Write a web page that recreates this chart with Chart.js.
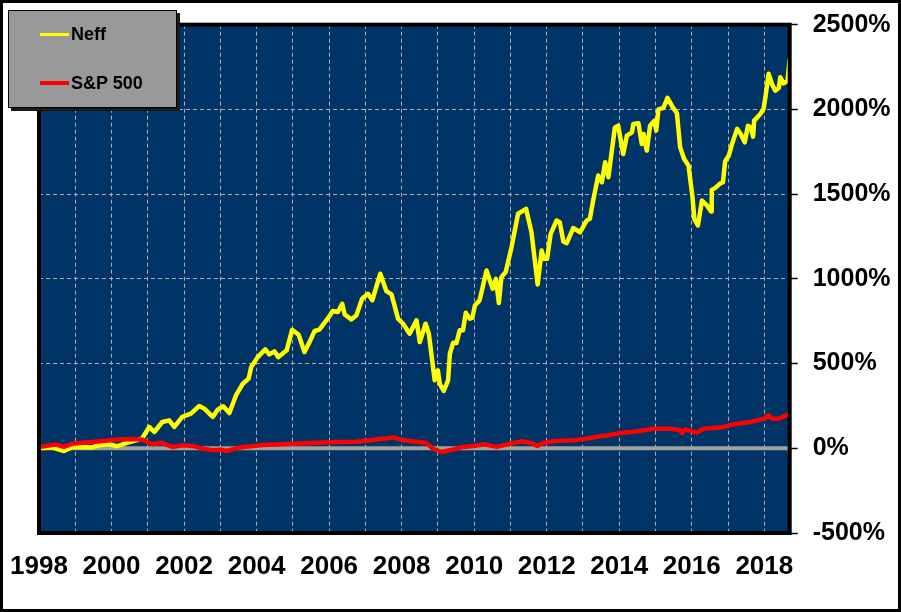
<!DOCTYPE html>
<html>
<head>
<meta charset="utf-8">
<script src="https://cdn.jsdelivr.net/npm/chart.js@4.4.1/dist/chart.umd.min.js"></script>
<style>
  html, body { margin: 0; padding: 0; background: #ffffff; overflow: hidden; }
  #wrap { position: relative; width: 901px; height: 612px; }
  #frame { position: absolute; left: 0; top: 0; width: 901px; height: 612px; box-sizing: border-box; border: 3px solid #000; pointer-events: none; }
  #legend { position: absolute; left: 8px; top: 10px; width: 169px; height: 98px; box-sizing: border-box; background: #999999; border: 1.5px solid #000; box-shadow: 3px 3px 0 #1a1a1a; font-family: "Liberation Sans", Arial, sans-serif; font-weight: bold; font-size: 18px; color: #000; }
  .item { position: absolute; left: 31px; height: 22px; display: flex; align-items: center; }
  .sw { width: 29px; height: 3.5px; margin-right: 2px; }
</style>
</head>
<body>
<div id="wrap">
  <canvas id="c" width="901" height="612"></canvas>
  <div id="legend"></div>
  <div id="frame"></div>
</div>
<script>
// ---- data ----
const seriesNames = ["Neff", "S&P 500"];
const seriesColors = ["#FFFF00", "#FF0000"];

// Neff cumulative return (%), by decimal year
const neffDates = [1998.00,1998.37,1998.69,1998.91,1999.19,1999.46,1999.66,1999.93,2000.15,2000.40,2000.68,2000.85,2001.04,2001.18,2001.40,2001.59,2001.73,2001.95,2002.19,2002.42,2002.56,2002.79,2002.93,2003.08,2003.25,2003.43,2003.62,2003.78,2003.85,2004.03,2004.24,2004.35,2004.49,2004.60,2004.83,2004.98,2005.16,2005.32,2005.46,2005.60,2005.73,2005.96,2006.10,2006.24,2006.36,2006.43,2006.61,2006.75,2006.91,2007.07,2007.19,2007.41,2007.58,2007.72,2007.90,2008.04,2008.22,2008.41,2008.50,2008.66,2008.75,2008.91,2009.00,2009.05,2009.16,2009.28,2009.33,2009.42,2009.51,2009.60,2009.69,2009.77,2009.88,2009.95,2010.02,2010.15,2010.34,2010.51,2010.60,2010.68,2010.75,2010.87,2011.03,2011.21,2011.43,2011.58,2011.75,2011.86,2011.92,2012.01,2012.11,2012.27,2012.36,2012.46,2012.55,2012.73,2012.92,2013.10,2013.19,2013.28,2013.42,2013.52,2013.61,2013.70,2013.88,2013.97,2014.11,2014.21,2014.35,2014.39,2014.53,2014.62,2014.67,2014.76,2014.85,2014.97,2015.02,2015.08,2015.22,2015.33,2015.45,2015.59,2015.68,2015.79,2015.91,2016.02,2016.07,2016.17,2016.28,2016.42,2016.53,2016.55,2016.65,2016.77,2016.86,2016.92,2017.02,2017.11,2017.25,2017.35,2017.46,2017.55,2017.63,2017.69,2017.72,2017.89,2017.98,2018.03,2018.12,2018.21,2018.30,2018.40,2018.44,2018.53,2018.64,2018.70];
const neffValues = [0,4,-16,6,8,5,18,24,12,31,47,59,126,96,155,165,126,185,204,250,234,185,228,248,208,312,381,411,479,538,584,554,572,538,578,700,670,568,627,692,700,765,810,804,853,790,761,784,883,912,873,1030,927,908,765,735,676,755,627,735,676,401,460,381,338,401,558,623,621,696,696,800,765,771,843,873,1049,942,1000,857,1010,1040,1187,1384,1413,1275,967,1167,1118,1118,1266,1344,1334,1220,1210,1300,1275,1344,1354,1462,1610,1570,1688,1600,1894,1904,1737,1845,1865,1914,1918,1796,1855,1757,1904,1934,1875,2000,2009,2068,2022,1977,1776,1708,1669,1482,1354,1315,1462,1433,1397,1525,1537,1561,1570,1694,1727,1796,1885,1855,1806,1904,1894,1839,1934,1973,2003,2072,2210,2150,2111,2127,2190,2154,2170,2298];

// S&P 500 cumulative return (%), by decimal year
const spDates = [1998.00,1998.46,1998.69,1998.92,1999.20,1999.47,1999.75,1999.98,2000.26,2000.62,2000.85,2001.13,2001.36,2001.68,2001.96,2002.23,2002.51,2002.79,2003.02,2003.16,2003.52,2004.17,2005.00,2006.01,2006.75,2007.12,2007.39,2007.81,2008.04,2008.41,2008.68,2008.86,2009.10,2009.33,2009.69,2009.97,2010.29,2010.62,2010.98,2011.31,2011.58,2011.74,2011.90,2012.23,2012.73,2013.10,2013.47,2013.70,2014.02,2014.39,2014.67,2014.94,2015.40,2015.68,2015.73,2015.82,2016.14,2016.32,2016.78,2017.15,2017.61,2018.00,2018.12,2018.21,2018.40,2018.67];
const spValues = [8,22,8,27,33,37,43,47,53,55,51,24,33,8,18,14,-2,-12,-8,-16,4,20,27,35,39,47,55,63,47,39,31,-2,-22,-12,8,14,24,8,27,41,31,14,31,43,47,57,71,77,90,98,106,116,116,106,90,112,92,116,122,141,155,175,195,175,175,200];

// axis ranges and ticks
const xRange = [1998, 2018.7];
const yRange = [-500, 2500];
const yStep = 500;
const xLabelYears = [1998,2000,2002,2004,2006,2008,2010,2012,2014,2016,2018];

const FONT = '"Liberation Sans", Arial, sans-serif';
const NAVY = '#003366';
const GRID = '#b0b0b0';

function pts(d, v) { return d.map((x, i) => ({ x: x, y: v[i] })); }
function isWhole(v) { return Math.abs(v - Math.round(v)) < 1e-6; }

// HTML legend built from series names/colors
const lg = document.getElementById('legend');
seriesNames.forEach((n, i) => {
  const it = document.createElement('div');
  it.className = 'item';
  it.style.top = (i === 0 ? 12.5 : 61) + 'px';
  const sw = document.createElement('div');
  sw.className = 'sw';
  sw.style.background = seriesColors[i];
  const tx = document.createElement('span');
  tx.textContent = n;
  it.appendChild(sw); it.appendChild(tx);
  lg.appendChild(it);
});

const plotBg = {
  id: 'plotBg',
  beforeDraw(chart) {
    const a = chart.chartArea, ctx = chart.ctx;
    ctx.save();
    ctx.fillStyle = NAVY;
    ctx.fillRect(a.left, a.top, a.right - a.left, a.bottom - a.top);
    ctx.restore();
  },
  afterDatasetsDraw(chart) {
    const a = chart.chartArea, ctx = chart.ctx;
    ctx.save();
    ctx.strokeStyle = '#000';
    ctx.lineWidth = 4;
    ctx.strokeRect(a.left, a.top, a.right - a.left, a.bottom - a.top);
    ctx.restore();
  }
};

new Chart(document.getElementById('c'), {
  type: 'line',
  data: {
    datasets: [
      { label: seriesNames[1], data: pts(spDates, spValues), borderColor: seriesColors[1], borderWidth: 4.5, pointRadius: 0, tension: 0, order: 0, borderJoinStyle: 'round', borderCapStyle: 'round' },
      { label: seriesNames[0], data: pts(neffDates, neffValues), borderColor: seriesColors[0], borderWidth: 4.5, pointRadius: 0, tension: 0, order: 1, borderJoinStyle: 'round', borderCapStyle: 'round' },
      { label: 'zero', data: pts(xRange, [0, 0]), borderColor: '#a0a0a0', borderWidth: 4, pointRadius: 0, order: 2 }
    ]
  },
  options: {
    responsive: false,
    animation: false,
    devicePixelRatio: 1,
    layout: { padding: { left: 39, top: 24.7, right: 0, bottom: 0 } },
    plugins: { legend: { display: false }, tooltip: { enabled: false } },
    scales: {
      x: {
        type: 'linear',
        min: xRange[0], max: xRange[1],
        afterFit(s) { s.height = 79; s.paddingLeft = 0; s.paddingRight = 0; },
        border: { display: false, dash: [4, 3] },
        grid: {
          drawTicks: false,
          lineWidth: 1,
          color: (c) => {
            const v = c.tick ? c.tick.value : null;
            return (v !== null && isWhole(v) && v > xRange[0] + 0.5) ? GRID : 'rgba(0,0,0,0)';
          }
        },
        ticks: {
          stepSize: 1,
          includeBounds: false,
          autoSkip: false,
          maxRotation: 0,
          padding: 18,
          color: '#000',
          font: { family: FONT, size: 26, weight: 'bold' },
          callback: (v) => (isWhole(v) && xLabelYears.includes(Math.round(v))) ? String(Math.round(v)) : ''
        }
      },
      y: {
        position: 'right',
        min: yRange[0], max: yRange[1],
        afterFit(s) { s.width = 111.3; s.paddingTop = 0; s.paddingBottom = 0; },
        border: { display: false, dash: [4, 3] },
        grid: {
          drawTicks: true,
          tickLength: 8,
          tickWidth: 1.5,
          tickColor: '#000',
          tickBorderDash: [],
          lineWidth: 1,
          color: (c) => {
            const v = c.tick ? c.tick.value : null;
            return (v !== null && v > yRange[0] && v < yRange[1] && v !== 0) ? GRID : 'rgba(0,0,0,0)';
          }
        },
        ticks: {
          stepSize: yStep,
          padding: 15,
          crossAlign: 'near',
          color: '#000',
          font: { family: FONT, size: 25, weight: 'bold' },
          callback: (v) => v + '%'
        }
      }
    }
  },
  plugins: [plotBg]
});
</script>
</body>
</html>
